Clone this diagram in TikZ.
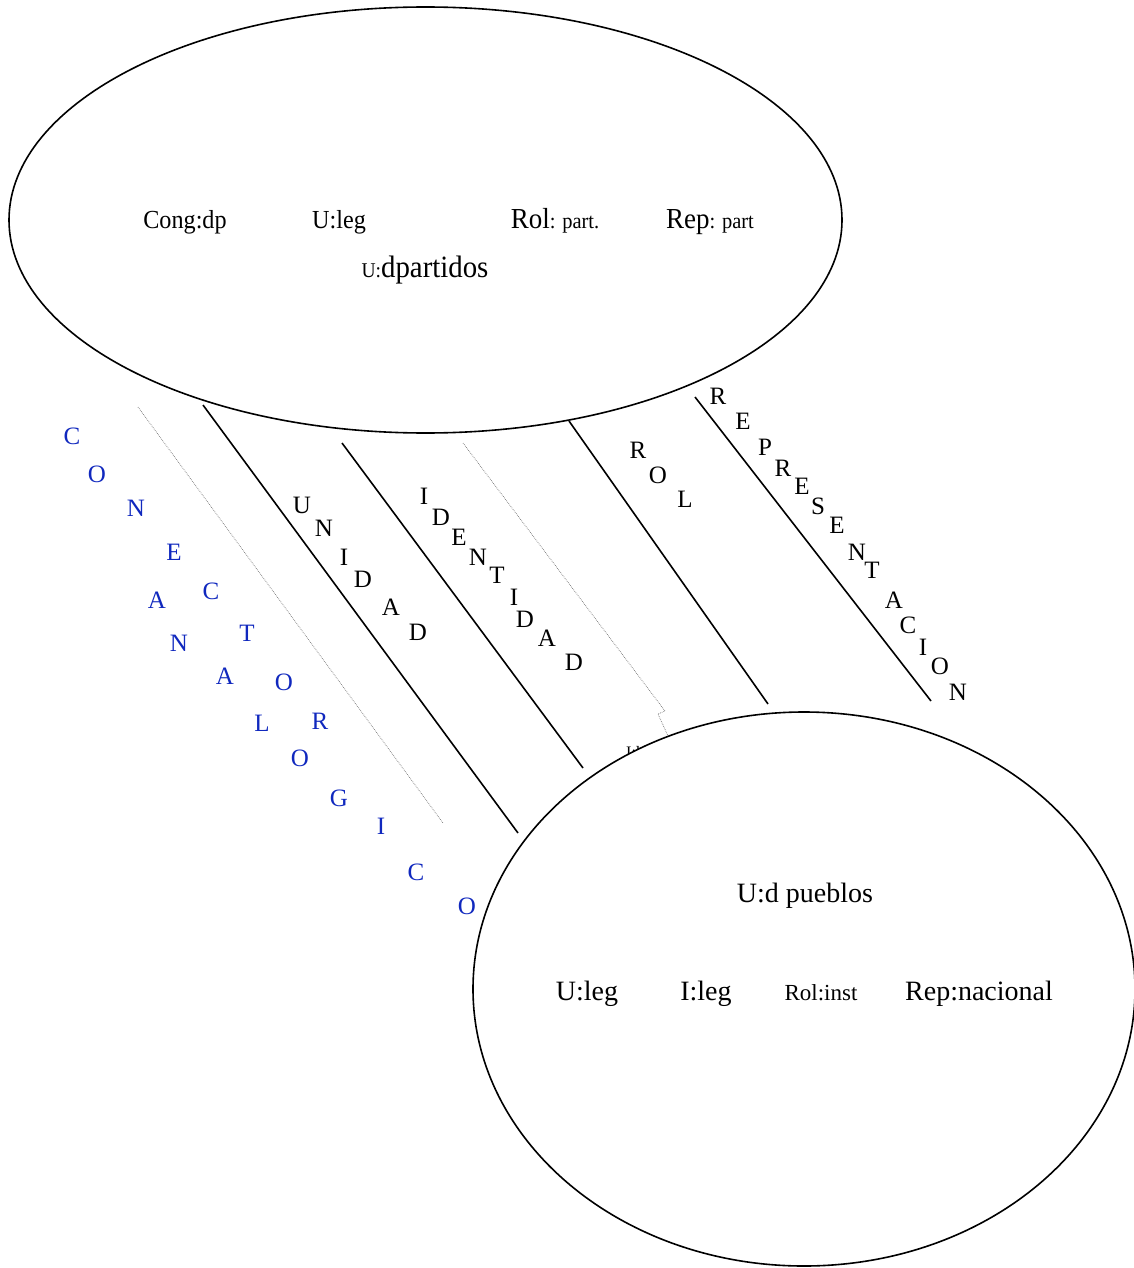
\documentclass[tikz,border=0pt]{standalone}
\usepackage{fontspec}
\setmainfont{Liberation Serif}
\newfontfamily\condf[FakeStretch=0.93]{Liberation Serif}
\usetikzlibrary{shapes.geometric}
\definecolor{conblue}{RGB}{16,40,190}
\newcommand{\fsz}[1]{\fontsize{#1}{#1}\selectfont}
\begin{document}
\begin{tikzpicture}[x=1pt,y=-1pt,
  lbl/.style={inner sep=0pt, anchor=base},
  toplbl/.style={lbl, font=\condf\fsz{26}},
  botlbl/.style={lbl, font=\fsz{28}},
  letter/.style={inner sep=0pt, font=\fsz{25}},
  blueletter/.style={letter, text=conblue},
  link/.style={line width=1.6pt},
  faint/.style={black!55, dash pattern=on 0.7pt off 1.1pt, line width=0.7pt},
  oval/.style={ellipse, draw, line width=1.6pt, fill=white, inner sep=0pt}]
\useasboundingbox (0,0) rectangle (1134,1268);

% top ellipse
\node[oval, minimum width=833pt, minimum height=426pt] (pt) at (425.5,220) {};
\node[toplbl] (cong) at (185,228) {Cong:dp};
\node[toplbl] (uleg1) at (339,228) {U:leg};
\node[toplbl] (rolp) at (555,228) {\fsz{29}Rol{\fsz{22}: part.}};
\node[toplbl] (repp) at (710,228) {\fsz{29}Rep{\fsz{22}: part}};
\node[toplbl] (udp) at (425,277) {{\fsz{21}U:}\fsz{31}dpartidos};

% connecting lines
\coordinate (a1) at (203,405); \coordinate (b1) at (518,833);
\coordinate (a2) at (342,443); \coordinate (b2) at (583,768);
\coordinate (a3) at (569,421); \coordinate (b3) at (768,704);
\coordinate (a4) at (695,397); \coordinate (b4) at (931,701);
\coordinate (a5) at (138,407); \coordinate (b5) at (443,823);
\coordinate (a6) at (463,443); \coordinate (m6) at (665,711);
\coordinate (n6) at (658,714); \coordinate (b6) at (668,736);
\draw[link] (a1) -- (b1);
\draw[link] (a2) -- (b2);
\draw[link] (a3) -- (b3);
\draw[link] (a4) -- (b4);
\draw[faint] (a5) -- (b5);
\draw[faint] (a6) -- (m6) -- (n6) -- (b6);

% vertical letter labels
\foreach \ch/\x/\y [count=\i] in {C/72/436,O/97/474,N/136/508,E/174/552,C/211/591,T/247/633,O/284/682,R/320/721}
  \node[blueletter] (con\i) at (\x,\y) {\ch};
\foreach \ch/\x/\y [count=\i] in {A/157/600,N/179/643,A/225/676,L/262/723,O/300/758,G/339/798,I/381/826,C/416/872,O/467/906}
  \node[blueletter] (ana\i) at (\x,\y) {\ch};
\foreach \ch/\x/\y [count=\i] in {U/302/505,N/324/528,I/344/557,D/363/579,A/391/607,D/418/632}
  \node[letter] (uni\i) at (\x,\y) {\ch};
\foreach \ch/\x/\y [count=\i] in {I/424/496,D/441/517,E/459/537,N/478/557,T/497/575,I/514/597,D/525/619,A/547/638,D/574/662}
  \node[letter] (ide\i) at (\x,\y) {\ch};
\foreach \ch/\x/\y [count=\i] in {R/638/450,O/658/475,L/685/499}
  \node[letter] (rol\i) at (\x,\y) {\ch};
\foreach \ch/\x/\y [count=\i] in {R/718/396,E/743/421,P/765/447,R/783/468,E/802/486,S/818/506,E/837/525,N/857/552,T/872/570,A/894/600,C/908/625,I/923/647,O/940/666,N/958/692}
  \node[letter] (rep\i) at (\x,\y) {\ch};

% partly hidden label
\node[lbl, anchor=base west, font=\fsz{16}] (ileg0) at (626,757) {I:leg};

% bottom ellipse
\node[oval, minimum width=662pt, minimum height=554pt] (pb) at (804,989) {};
\node[botlbl] (udpu) at (805,902) {U:d pueblos};
\node[botlbl] (uleg2) at (587,1000) {U:leg};
\node[botlbl] (ileg) at (706,1000) {I:leg};
\node[lbl, font=\fsz{23}] (rolinst) at (821,1000) {Rol:inst};
\node[botlbl] (repnac) at (979,1000) {Rep:nacional};
\end{tikzpicture}
\end{document}
